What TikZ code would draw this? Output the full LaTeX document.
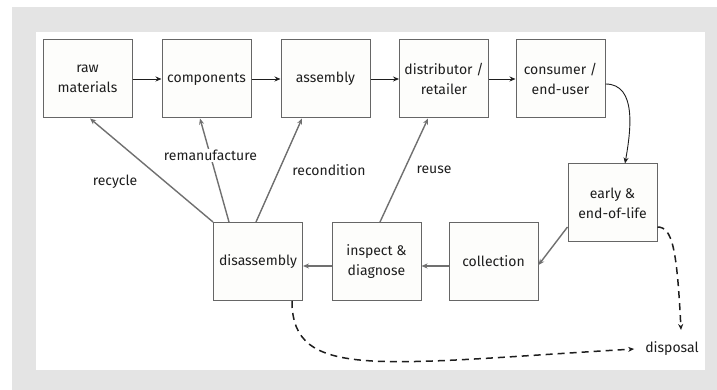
\documentclass[tikz,border=0pt]{standalone}
\usepackage{fontspec}
\setmainfont{Fira Sans}
\usetikzlibrary{arrows.meta,calc}
\definecolor{panel}{HTML}{E4E4E4}
\definecolor{boxline}{HTML}{666666}
\definecolor{boxfill}{HTML}{FDFDFB}
\definecolor{backline}{HTML}{707070}
\definecolor{ink}{HTML}{1E1E1E}
\tikzset{
  stage/.style={draw=boxline, line width=1pt, fill=boxfill, minimum width=89pt,
    minimum height=78pt, inner sep=2pt, align=center, text=ink,
    font=\fontsize{14}{20}\selectfont},
  lbl/.style={text=ink, font=\fontsize{14}{20}\selectfont, inner sep=1pt},
  fwd/.style={draw=ink, line width=0.9pt, -{Stealth[length=6pt,width=5pt]}},
  back/.style={draw=backline, line width=1.4pt, -{Stealth[length=6pt,width=5pt]}},
  waste/.style={draw=ink, line width=1.5pt, dash pattern=on 7pt off 5pt,
    -{Stealth[length=6pt,width=5pt]}}
}
\begin{document}
\begin{tikzpicture}[x=1pt,y=1pt]
\useasboundingbox (0,0) rectangle (717,390);
% frame
\fill[panel] (12,0) rectangle (717,383);
\fill[white] (36,20) rectangle (705,358);

% supply chain, top row
\node[stage] (raw)  at (87.5,311)  {raw\\materials};
\node[stage] (comp) at (206.5,311) {components};
\node[stage] (asm)  at (325.5,311) {assembly};
\node[stage] (dist) at (444,311)   {distributor /\\retailer};
\node[stage] (cons) at (560.5,311) {consumer /\\end-user};

% end of life
\node[stage] (eol)  at (612.5,187) {early \&\\end-of-life};
\node[stage] (dis)  at (258,128.5) {disassembly};
\node[stage] (insp) at (376.5,128.5) {inspect \&\\diagnose};
\node[stage] (coll) at (493.5,128.5) {collection};
\node[lbl, inner sep=0pt] (disp) at (672,41) {disposal};

% forward flow
\draw[fwd] (raw) -- (comp);
\draw[fwd] (comp) -- (asm);
\draw[fwd] (asm) -- (dist);
\draw[fwd] (dist) -- (cons);
\draw[fwd] ([yshift=-5pt]cons.east) to[out=0,in=80] ([xshift=12.5pt]eol.north);

% return flow
\draw[back] ([yshift=-24pt]eol.west) -- ([yshift=-3.5pt]coll.east);
\draw[back] ([yshift=-4.5pt]coll.west) -- ([yshift=-4.5pt]insp.east);
\draw[back] ([yshift=-4.5pt]insp.west) -- ([yshift=-4.5pt]dis.east);

% recovery loops
\draw[back] (dis.north west) -- ([xshift=2.5pt]raw.south);
\node[lbl] (lrec) at (115,208) {recycle};
\draw[back] ([xshift=-29pt]dis.north) -- ([xshift=-6.5pt]comp.south)
  node[lbl, fill=white, pos=0.64] (lreman) {remanufacture};
\draw[back] ([xshift=-2pt]dis.north) -- ([xshift=-23.5pt]asm.south);
\node[lbl] (lrecon) at (329,220) {recondition};
\draw[back] ([xshift=3.5pt]insp.north) -- ([xshift=-16pt]dist.south);
\node[lbl] (lreuse) at (434,220) {reuse};

% disposal
\draw[waste] ([yshift=-24pt]eol.east) .. controls +(15,0) and +(-4,80) .. ($(disp.center)+(9,19)$);
\draw[waste] ([xshift=34pt]dis.south) .. controls +(0,-80) and +(-255,-15) .. ([xshift=-11pt]disp.west);
\end{tikzpicture}
\end{document}
